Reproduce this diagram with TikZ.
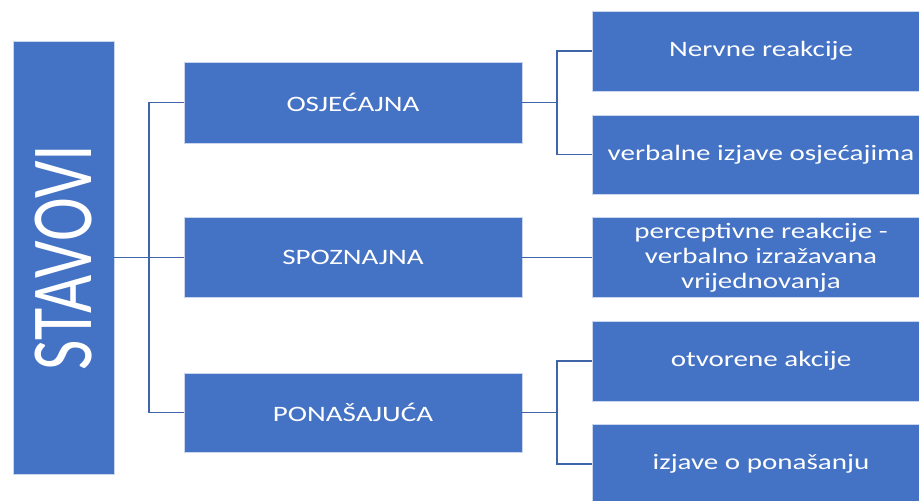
\documentclass[tikz,border=0pt]{standalone}
\usepackage{fontspec}
\setmainfont{Carlito}[FakeStretch=1.32]
\newfontfamily\stavfont{Carlito}
\usepackage{graphicx}
\definecolor{boxblue}{HTML}{4472C4}
\definecolor{edgeblue}{HTML}{C9D6EE}
\definecolor{lineblue}{HTML}{3F64A8}
\begin{document}
\begin{tikzpicture}[x=1pt,y=-1pt,
  box/.style={rectangle, fill=boxblue, draw=edgeblue, line width=0.8pt, inner sep=0pt,
    minimum width=338pt, minimum height=80pt, text=white, align=center,
    font=\fontsize{22}{25}\selectfont},
  conn/.style={draw=lineblue, line width=1.4pt}]
\useasboundingbox (0,0) rectangle (919,501);
\fill[white] (0,0) rectangle (919,501);
\node[box, minimum width=101pt, minimum height=433pt] (stav) at (63.5,257.5)
  {\rotatebox{90}{\scalebox{1}[1.32]{\stavfont\fontsize{66}{72}\selectfont STAVOVI}}};
\node[box, minimum height=81pt] (osj) at (353,102.5) {OSJEĆAJNA};
\node[box] (spo) at (353,257.5) {SPOZNAJNA};
\node[box, minimum height=79pt] (pon) at (353,412.5) {PONAŠAJUĆA};
\node[box] (nerv) at (761,51) {Nervne reakcije};
\node[box, minimum height=79pt] (verb) at (761,154.5) {verbalne izjave osjećajima};
\node[box] (perc) at (761,257.5) {perceptivne reakcije -\\verbalno izražavana\\vrijednovanja};
\node[box] (otv) at (761,361) {otvorene akcije};
\node[box] (izj) at (761,464) {izjave o ponašanju};
\coordinate (j1) at (149,257.5);
\coordinate (j2) at (557,102.5);
\coordinate (j3) at (557,412.5);
\draw[conn] (stav.east) -- (spo.west);
\draw[conn] (osj.west) -| (j1) |- (pon.west);
\draw[conn] (osj.east) -- (j2);
\draw[conn] (nerv.west) -| (j2) |- (verb.west);
\draw[conn] (spo.east) -- (perc.west);
\draw[conn] (pon.east) -- (j3);
\draw[conn] (otv.west) -| (j3) |- (izj.west);
\end{tikzpicture}
\end{document}
